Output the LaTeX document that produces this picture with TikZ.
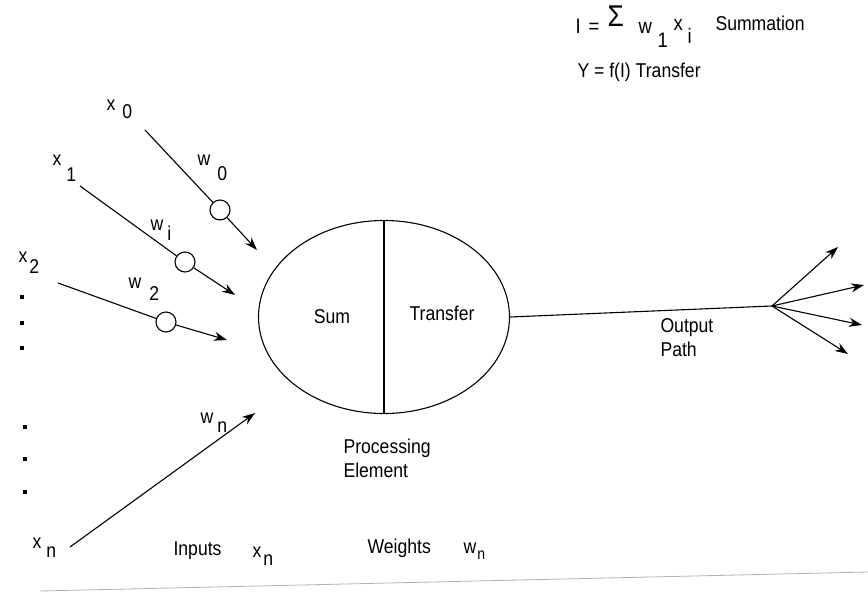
\documentclass[tikz,border=0pt]{standalone}
\usepackage{fontspec}
\setmainfont{Liberation Sans}[FakeStretch=0.88]
\usetikzlibrary{shapes.geometric,arrows.meta}
\newcommand{\idx}[4]{#1\hspace{#3pt}\raisebox{-#4pt}{#2}}

\begin{document}
\begin{tikzpicture}[x=1pt, y=-1pt, line width=1.1pt,
  font=\fontsize{20}{24}\selectfont,
  wt/.style={circle, draw, minimum size=20pt, inner sep=0pt},
  lbl/.style={anchor=base west, inner sep=0pt},
  tip/.style={-{Stealth[length=13pt, width=9pt]}}]
  \useasboundingbox (0,0) rectangle (868,595);
  % processing element
  \node[ellipse, draw, minimum width=251pt, minimum height=193pt] (pe) at (384,317) {};
  \draw (pe.north) -- (pe.south);
  \node (sum) at (332,317) {Sum};
  \node (transfer) at (442,313) {Transfer};
  \node[lbl, align=left] (pelabel) at (343,477) {Processing\\Element};
  % output path
  \coordinate (fan) at (772,306);
  \coordinate (f1) at (838,247);
  \coordinate (f2) at (864,285);
  \coordinate (f3) at (862,325);
  \coordinate (f4) at (848,354);
  \draw (pe.east) -- (fan);
  \foreach \f in {f1,f2,f3,f4} \draw[tip] (fan) -- (\f);
  \node[lbl, align=left] (outlabel) at (660,356) {Output\\Path};
  % inputs and weights
  \node[wt] (c0) at (220,210) {};
  \node[wt] (c1) at (185,262) {};
  \node[wt] (c2) at (166,322) {};
  \coordinate (s0) at (145,130); \coordinate (t0) at (257,250);
  \coordinate (s1) at (80,186);  \coordinate (t1) at (235,295);
  \coordinate (s2) at (58,283);  \coordinate (t2) at (227,340);
  \coordinate (sn) at (70,547);  \coordinate (tn) at (255,413);
  \draw (s0) -- (c0); \draw[tip] (c0) -- (t0);
  \draw (s1) -- (c1); \draw[tip] (c1) -- (t1);
  \draw (s2) -- (c2); \draw[tip] (c2) -- (t2);
  \draw[tip] (sn) -- (tn);
  \node[lbl] (x0) at (106,110) {\idx{x}{0}{7}{8}};
  \node[lbl] (w0) at (197,165) {\idx{w}{0}{7}{15}};
  \node[lbl] (x1) at (52,165) {\idx{x}{1}{5}{16}};
  \node[lbl] (wi) at (150,230) {\idx{w}{i}{4}{10}};
  \node[lbl] (x2) at (18,262) {\idx{x}{2}{2}{11}};
  \node[lbl] (w2) at (128,288) {\idx{w}{2}{8}{12}};
  \node[lbl] (wn) at (200,423) {\idx{w}{n}{4}{9}};
  \node[lbl] (xn) at (32,548) {\idx{x}{n}{5}{9}};
  \foreach \p in {(22,297),(22,323),(22,348),(25,427),(25,459),(25,492)}
    \fill \p +(-2,-2) rectangle +(2,2);
  % legend
  \node[lbl] (inputs) at (173,555) {Inputs};
  \node[lbl] (xnleg) at (252,557) {\idx{x}{n}{2}{8}};
  \node[lbl] (weights) at (367,553) {Weights};
  \node[lbl] (wnleg) at (463,553) {\idx{w}{\fontsize{16}{16}\selectfont n}{1}{6}};
  % equations
  \node[lbl, font=\fontsize{21}{21}\selectfont] (sumeq) at (575,30) {%
    \makebox[13pt][l]{\raisebox{-3pt}{I}}\makebox[19pt][l]{\raisebox{-3pt}{=}}%
    \makebox[31pt][l]{\raisebox{4pt}{\fontsize{30}{30}\selectfont Σ}}%
    \makebox[19pt][l]{\raisebox{-3pt}{w}}%
    \makebox[16pt][l]{\raisebox{-17pt}{1}}%
    \makebox[14pt][l]{x}\raisebox{-13pt}{i}};
  \node[lbl] (summation) at (715,30) {Summation};
  \node[lbl] (transfereq) at (577,77) {Y = f(I) Transfer};
  % page edge
  \draw[gray!60, line width=0.8pt] (40,591) -- (868,572);
\end{tikzpicture}
\end{document}
